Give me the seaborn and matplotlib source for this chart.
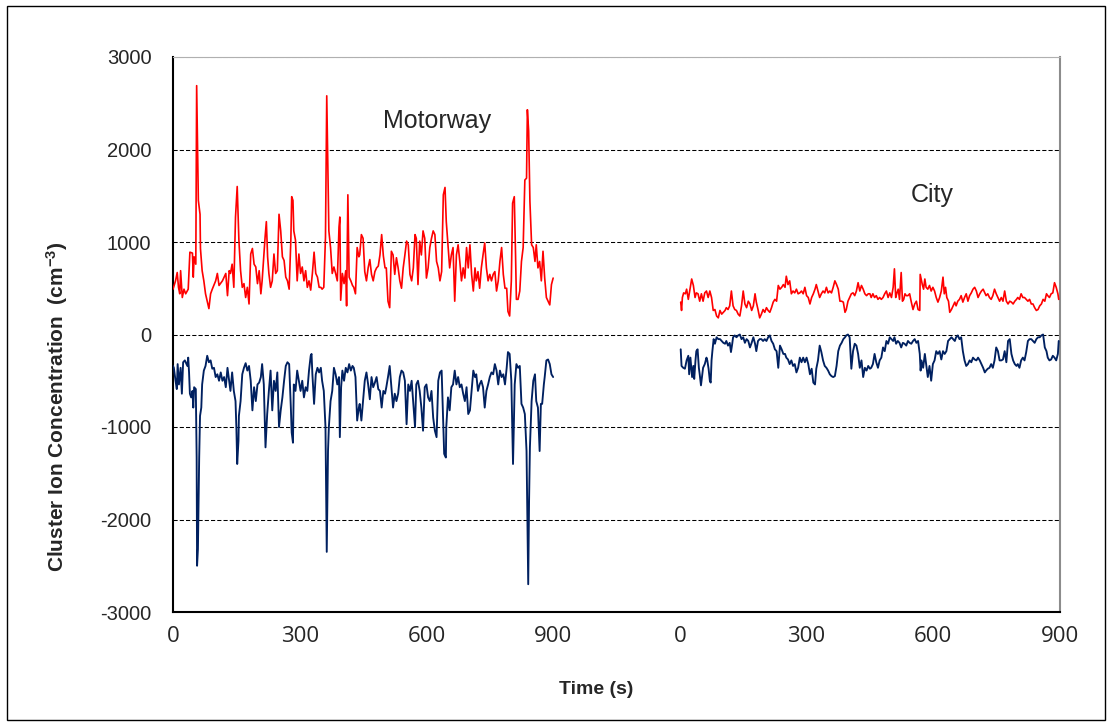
import numpy as np
import pandas as pd
import matplotlib
matplotlib.use("Agg")
import matplotlib.pyplot as plt
from matplotlib.patches import Rectangle
import seaborn as sns

# ---------------- data ----------------
MW_POS_T = [0,6,10,13,16,18,22,26,30,36,40,46,48,50,54,56,60,64,65,69,73,77,85,89,93,101,105,109,117,125,
            129,133,136,140,144,148,152,156,160,164,168,172,176,180,184,188,192,196,200,204,208,211,218,221,224,227,231,235,239,243,
            247,251,255,259,263,267,271,275,279,281,284,286,290,294,298,302,306,310,314,318,322,326,330,334,338,342,346,350,353,357,
            361,364,367,369,373,377,381,385,389,393,395,397,401,405,409,411,414,417,421,425,428,432,436,440,
            442,446,450,454,458,462,466,470,474,478,482,486,490,494,498,502,505,509,513,517,521,525,529,533,537,541,545,549,553,557,
            561,565,569,573,576,580,584,588,592,596,600,604,608,612,616,620,624,628,632,636,640,644,647,651,655,659,663,667,671,675,
            679,683,687,691,695,699,703,707,711,715,718,722,726,730,734,738,742,746,750,754,758,762,766,770,774,778,782,786,790,793,
            797,801,804,808,811,813,817,821,825,829,833,837,839,842,845,849,853,857,860,864,868,872,876,880,884,888,892,896,900]
MW_POS_V = [490,580,670,510,440,690,400,490,440,490,890,880,620,840,760,2690,1450,1300,930,690,580,440,280,440,490,580,660,530,580,660,
            420,690,660,760,510,1270,1600,1020,690,510,550,400,510,330,870,930,760,730,550,690,440,580,1050,1220,840,660,510,580,870,660,
            690,1300,1120,840,800,620,580,490,1020,1490,1450,1120,1020,580,870,660,730,580,690,510,580,480,660,890,660,620,510,510,490,510,
            1050,2580,1740,1120,940,660,730,660,580,1160,1270,370,660,550,690,310,1510,620,580,530,510,440,940,840,
            860,1080,1040,680,580,720,810,650,580,680,720,740,860,1080,850,720,720,360,290,900,860,650,830,720,580,500,720,860,1010,970,
            650,580,720,1080,1040,540,1010,860,1120,1040,610,720,940,1040,1120,1080,790,720,580,680,1510,1590,1220,970,720,860,940,360,860,970,
            790,580,720,610,940,720,970,650,470,720,580,680,500,720,860,990,720,580,650,580,650,680,470,580,790,940,650,500,500,250,
            200,580,1420,1490,860,380,380,470,790,940,1670,1690,2430,2200,1440,970,940,790,970,720,790,580,900,610,400,360,320,540,610]

MW_NEG_T = [0,2,6,9,11,14,18,21,24,28,34,36,38,40,43,46,48,50,54,56,57,59,62,64,67,69,73,77,81,85,
            89,93,97,101,105,109,113,117,121,125,129,133,136,140,144,148,150,152,155,156,160,164,168,172,176,180,184,188,192,196,
            200,204,208,211,215,219,223,227,231,235,239,243,247,251,255,259,263,267,271,275,279,281,284,286,290,294,298,302,306,310,
            314,318,322,326,328,330,334,338,342,346,350,353,357,361,364,367,369,373,377,381,385,389,393,395,398,401,405,409,413,417,
            421,425,428,432,436,440,
            442,446,450,454,458,462,466,470,474,478,482,486,490,494,498,502,505,509,513,517,521,525,529,533,537,541,545,549,553,557,
            561,565,569,573,576,580,584,588,592,596,600,604,608,612,616,620,624,628,632,636,640,642,646,647,651,655,659,663,667,671,
            675,679,683,687,691,695,699,703,707,711,715,718,722,726,730,734,738,742,746,750,754,758,762,766,770,774,778,782,786,790,
            793,797,801,805,809,813,817,821,825,829,833,837,841,843,845,849,853,857,860,864,868,871,874,878,880,884,888,892,896,900]
MW_NEG_V = [-340,-360,-500,-590,-320,-540,-360,-640,-300,-280,-340,-250,-410,-640,-680,-610,-790,-570,-590,-1330,-2500,-2320,-1330,-880,-790,-540,-390,-340,-230,-300,
            -280,-370,-360,-460,-430,-500,-410,-500,-460,-570,-360,-500,-610,-410,-610,-720,-1000,-1400,-1150,-880,-720,-430,-360,-310,-390,-340,-500,-820,-570,-720,
            -540,-520,-460,-320,-540,-1220,-860,-610,-390,-820,-500,-610,-410,-1000,-820,-680,-500,-340,-300,-320,-790,-1060,-1170,-540,-610,-390,-500,-610,-500,-680,
            -570,-610,-390,-230,-210,-430,-750,-430,-360,-410,-360,-500,-610,-1000,-2350,-1260,-1000,-720,-610,-360,-430,-540,-460,-1110,-570,-390,-500,-360,-410,-320,
            -390,-340,-360,-460,-930,-790,
            -750,-930,-720,-500,-410,-540,-700,-460,-570,-520,-460,-590,-610,-790,-610,-640,-570,-460,-340,-570,-790,-640,-720,-640,-460,-390,-410,-500,-970,-540,
            -610,-500,-750,-1000,-540,-500,-610,-790,-1040,-570,-540,-680,-720,-610,-900,-1040,-1110,-500,-410,-390,-1000,-1290,-1330,-1000,-680,-820,-570,-540,-390,-540,
            -460,-570,-540,-640,-720,-570,-860,-820,-610,-390,-460,-430,-610,-540,-500,-570,-790,-610,-540,-460,-410,-430,-320,-390,-540,-390,-460,-430,-540,-360,
            -190,-210,-500,-1400,-540,-320,-360,-340,-750,-790,-860,-1260,-2700,-1800,-1220,-720,-500,-430,-720,-790,-1260,-750,-750,-540,-460,-280,-270,-320,-430,-460]

CITY_POS_T = [2,4,6,9,13,16,20,24,28,32,36,39,43,47,51,55,59,63,67,71,75,79,83,87,91,95,99,103,107,110,
              114,118,122,126,130,134,138,142,146,150,154,158,162,166,170,174,178,181,185,189,193,197,201,205,209,213,217,221,225,229,
              233,237,241,245,249,252,256,260,264,268,272,276,280,284,288,292,296,300,304,308,312,316,320,323,327,331,335,339,343,347,
              351,355,359,363,367,371,375,379,383,387,391,394,398,402,406,410,414,418,422,426,430,434,438,442,446,450,
              453,457,461,465,469,473,477,481,485,489,493,497,501,505,508,511,514,517,520,524,527,530,533,536,540,544,548,552,556,560,
              564,568,569,574,577,580,583,587,591,595,599,603,607,611,615,619,623,626,629,632,636,639,643,647,651,654,658,662,666,670,
              674,678,682,686,690,694,698,702,706,710,714,718,722,725,729,733,737,741,745,749,753,757,761,765,769,773,777,781,785,789,
              793,797,800,804,808,812,816,820,824,828,832,836,840,844,848,852,856,860,864,868,871,875,879,883,887,891,895,897]
CITY_POS_V = [350,260,400,450,440,490,380,490,600,530,400,450,440,360,440,360,450,470,400,470,400,260,270,200,180,260,220,240,260,290,
              270,310,470,310,270,260,220,200,310,470,330,290,360,330,260,310,440,350,270,180,220,270,240,290,260,240,290,350,380,360,
              530,490,510,540,510,630,540,580,440,470,450,490,440,450,470,440,510,420,400,330,400,440,490,540,470,400,440,470,450,510,
              450,470,450,510,580,540,490,360,360,350,240,270,360,400,440,450,420,470,560,470,530,490,440,420,440,440,
              400,440,400,420,380,400,380,400,440,470,400,450,400,510,710,400,450,490,380,670,360,380,440,420,420,440,350,270,330,360,
              270,260,650,540,490,600,510,490,530,470,510,470,400,350,400,470,620,440,510,400,360,240,270,310,350,310,360,380,420,350,
              400,440,360,420,450,490,510,470,400,440,470,490,450,420,440,400,380,420,490,440,400,360,400,360,470,360,330,360,350,330,
              360,380,400,380,440,400,400,380,360,380,330,330,290,260,270,310,330,380,360,440,420,400,440,450,560,510,440,380]

CITY_NEG_T = [2,4,8,12,16,20,22,25,29,32,34,37,39,42,45,47,50,53,55,59,63,65,68,71,73,75,77,80,83,87,
              91,95,99,103,107,110,114,118,121,124,126,130,134,138,142,146,150,154,158,162,166,170,174,178,181,185,189,193,197,201,
              205,209,213,217,221,225,229,233,237,241,245,249,252,256,260,264,268,272,276,280,284,288,292,296,300,304,308,312,316,320,
              323,327,331,335,339,343,347,351,355,359,363,367,371,375,379,383,387,391,394,398,402,406,410,414,418,422,426,430,434,438,
              442,446,450,
              453,457,461,465,469,473,477,481,485,489,493,497,501,505,508,512,516,520,524,528,532,536,540,544,548,552,556,560,564,568,
              570,572,576,580,583,587,591,595,599,603,607,611,615,619,623,627,631,635,639,643,647,651,654,658,662,666,670,674,678,682,
              686,690,694,698,702,706,710,714,718,722,725,729,733,737,741,745,749,753,757,761,765,769,773,777,781,785,789,793,797,800,
              804,808,812,816,820,824,828,832,836,840,844,848,852,856,860,864,868,871,875,879,883,887,891,895,897]
CITY_NEG_V = [-160,-340,-360,-370,-280,-230,-430,-250,-460,-340,-480,-280,-180,-160,-360,-430,-550,-430,-360,-320,-250,-280,-370,-500,-520,-280,-180,-50,-100,-30,
              -50,-50,-70,-90,-100,-70,-120,-90,-190,-100,-30,-10,-30,-10,0,-50,-30,-90,-50,-70,-140,-90,-30,-100,-180,-70,-50,-50,-70,-50,
              -70,-30,-10,-70,-100,-160,-180,-360,-120,-160,-210,-210,-250,-270,-320,-280,-340,-320,-410,-360,-250,-300,-250,-300,-250,-320,-430,-370,-520,-540,
              -370,-280,-120,-190,-280,-340,-360,-390,-430,-450,-460,-450,-340,-180,-120,-90,-50,-30,-10,0,-30,-370,-180,-100,-120,-210,-360,-280,-460,-360,
              -390,-340,-370,
              -360,-320,-210,-300,-360,-280,-250,-140,-180,-70,-100,-30,-50,-70,-30,-100,-70,-90,-140,-90,-100,-120,-70,-90,-100,-70,-50,-90,-70,-210,
              -390,-280,-360,-210,-320,-460,-340,-500,-320,-280,-180,-210,-180,-270,-180,-210,-180,-70,-50,-30,-50,-70,-30,-10,-50,-30,-180,-280,-340,-320,
              -280,-300,-250,-270,-280,-250,-280,-320,-360,-410,-390,-370,-360,-320,-360,-280,-140,-180,-280,-280,-270,-180,-300,-70,-50,-210,-280,-320,-340,-320,
              -360,-280,-250,-280,-190,-70,-50,-50,-70,-90,-50,-30,-30,-10,0,-140,-180,-250,-280,-270,-230,-250,-280,-210,-70]

CITY_OFFSET = 1200
X_TICKS = [0, 300, 600, 900, 1200, 1500, 1800, 2100]
X_TICK_LABELS = ["0", "300", "600", "900", "0", "300", "600", "900"]
Y_TICKS = [-3000, -2000, -1000, 0, 1000, 2000, 3000]
Y_TICK_LABELS = ["-3000", "-2000", "-1000", "0", "1000", "2000", "3000"]
X_LABEL = "Time (s)"
Y_LABEL = "Cluster Ion Concentration  (cm$^{-3}$)"
ANNOT_MOTORWAY = "Motorway"
ANNOT_CITY = "City"

RED = "#ff0000"
NAVY = "#002060"

# ---------------- figure ----------------
sns.set_style("white")
plt.rcParams["font.family"] = ["Liberation Sans", "DejaVu Sans"]
plt.rcParams["mathtext.default"] = "regular"

fig = plt.figure(figsize=(11.12, 7.28), dpi=100)
ax = fig.add_axes([173/1112, 1-612/728, (1060-173)/1112, (612-57)/728])

series = [
    (MW_POS_T, MW_POS_V, 0, RED, 1.2),
    (MW_NEG_T, MW_NEG_V, 0, NAVY, 1.35),
    (CITY_POS_T, CITY_POS_V, CITY_OFFSET, RED, 1.2),
    (CITY_NEG_T, CITY_NEG_V, CITY_OFFSET, NAVY, 1.35),
]
for t, v, off, col, lw in series:
    df = pd.DataFrame({"t": np.asarray(t, dtype=float) + off, "v": v})
    sns.lineplot(data=df, x="t", y="v", ax=ax, color=col, linewidth=lw,
                 sort=False, estimator=None, legend=False, zorder=3)

ax.set_xlim(0, 2100)
ax.set_ylim(-3000, 3000)
ax.set_xticks(X_TICKS)
ax.set_xticklabels(X_TICK_LABELS, fontfamily="Open Sans", fontsize=16)
ax.set_yticks(Y_TICKS)
ax.set_yticklabels(Y_TICK_LABELS, fontsize=14.5)
ax.set_xlabel("")
ax.set_ylabel("")

ax.tick_params(axis="x", direction="in", length=5, width=1.2, color="black", pad=10)
ax.tick_params(axis="y", direction="out", length=4.5, width=1.2, color="black", pad=11)

ax.yaxis.grid(True, color="black", linestyle=(0, (4, 2)), linewidth=0.75)
ax.xaxis.grid(False)
ax.set_axisbelow(True)
ax.get_ygridlines()[-1].set_color("#999999")

for side in ["left", "bottom"]:
    ax.spines[side].set_color("black")
    ax.spines[side].set_linewidth(1.5)
ax.spines["right"].set_color("#8c8c8c")
ax.spines["right"].set_linewidth(1.5)
ax.spines["top"].set_color("#b0b0b0")
ax.spines["top"].set_linewidth(0.8)

ax.text(497, 2232, ANNOT_MOTORWAY, fontsize=18, ha="left", va="baseline")
ax.text(1798, 1432, ANNOT_CITY, fontsize=18, ha="center", va="baseline")

fig.text(596/1112, 1-694/728, X_LABEL, fontsize=14, fontweight="bold",
         ha="center", va="baseline")
fig.text(57.5/1112, 1-407/728, Y_LABEL, fontsize=15, fontweight="bold",
         rotation=90, ha="center", va="center")

fig.add_artist(Rectangle((7/1112, 1-720/728), (1105-7)/1112, (720-6)/728,
                         transform=fig.transFigure, fill=False,
                         edgecolor="black", linewidth=1.0))

fig.savefig("out.png", dpi=100)
